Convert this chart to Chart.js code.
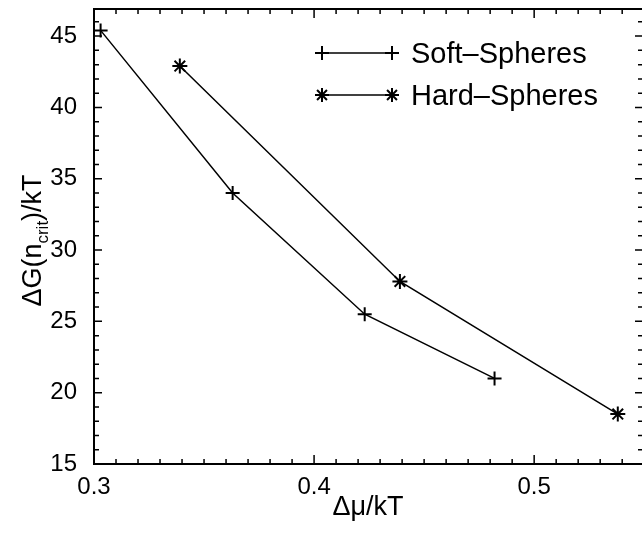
<!DOCTYPE html>
<html>
<head>
<meta charset="utf-8">
<script src="https://cdn.jsdelivr.net/npm/chart.js@4"></script>
<style>
  html, body { margin: 0; padding: 0; overflow: hidden; background: #fff; }
  #myChart { display: block; }
</style>
</head>
<body>
<canvas id="myChart" width="642" height="533"></canvas>
<script>
// data
const softX = [0.303, 0.363, 0.423, 0.482];
const softY = [45.4, 34.0, 25.5, 21.0];
const hardX = [0.339, 0.439, 0.538];
const hardY = [42.9, 27.8, 18.5];
const xTicks = [0.3, 0.4, 0.5];
const yTicks = [15, 20, 25, 30, 35, 40, 45];
const seriesNames = ['Soft\u2013Spheres', 'Hard\u2013Spheres'];

const FONT = '"Liberation Sans", Arial, Helvetica, sans-serif';
Chart.defaults.font.family = FONT;
Chart.defaults.color = '#000';

function toPoints(xs, ys) {
    return xs.map((x, i) => ({ x: x, y: ys[i] }));
}

function drawMarker(ctx, style, x, y, r) {
    ctx.beginPath();
    ctx.moveTo(x - r, y); ctx.lineTo(x + r, y);
    ctx.moveTo(x, y - r); ctx.lineTo(x, y + r);
    if (style === 'star') {
        const d = r * 0.707;
        ctx.moveTo(x - d, y - d); ctx.lineTo(x + d, y + d);
        ctx.moveTo(x - d, y + d); ctx.lineTo(x + d, y - d);
    }
    ctx.stroke();
}

// keep the plot box where the original has it
function fixBox(size) {
    return s => {
        if (s.isHorizontal()) s.height = size; else s.width = size;
        s.paddingTop = 0; s.paddingBottom = 0;
        s.paddingLeft = 0; s.paddingRight = 0;
    };
}

// frame (right edge is cut off in the original), inward ticks, y title, legend
const framePlugin = {
    id: 'frame',
    afterDraw(chart) {
        const ctx = chart.ctx;
        const a = chart.chartArea;
        const xs = chart.scales.x, ys = chart.scales.y;
        ctx.save();
        ctx.strokeStyle = '#000';
        ctx.lineWidth = 2;
        ctx.beginPath();
        ctx.moveTo(chart.width, a.top);
        ctx.lineTo(a.left, a.top);
        ctx.lineTo(a.left, a.bottom);
        ctx.lineTo(chart.width, a.bottom);
        ctx.stroke();

        ctx.lineWidth = 1.5;
        ctx.beginPath();
        for (let i = 30; i <= 55; i++) {
            const px = xs.getPixelForValue(i / 100);
            const len = i % 10 === 0 ? 9 : 5;
            ctx.moveTo(px, a.bottom); ctx.lineTo(px, a.bottom - len);
            ctx.moveTo(px, a.top); ctx.lineTo(px, a.top + len);
        }
        for (let v = 15; v <= 46; v++) {
            const py = ys.getPixelForValue(v);
            const len = v % 5 === 0 ? 8 : 5;
            ctx.moveTo(a.left, py); ctx.lineTo(a.left + len, py);
            ctx.moveTo(a.right + 1, py); ctx.lineTo(a.right + 1 - len, py);
        }
        ctx.stroke();

        // y title: ΔG(n_crit)/kT
        ctx.fillStyle = '#000';
        ctx.translate(31, (a.top + a.bottom) / 2 + 4);
        ctx.rotate(-Math.PI / 2);
        const big = '27px ' + FONT, small = '17px ' + FONT;
        const parts = [['\u0394G(n', big, 0], ['crit', small, 7], [')/kT', big, 0]];
        let total = 0;
        parts.forEach(p => { ctx.font = p[1]; total += ctx.measureText(p[0]).width; });
        let cx = -total / 2;
        ctx.textBaseline = 'alphabetic';
        parts.forEach(p => {
            ctx.font = p[1];
            ctx.fillText(p[0], cx, 10 + p[2]);
            cx += ctx.measureText(p[0]).width;
        });
        ctx.restore();

        // legend
        ctx.save();
        ctx.strokeStyle = '#000';
        ctx.fillStyle = '#000';
        ctx.font = '29px ' + FONT;
        ctx.textBaseline = 'middle';
        const rows = [[53, 'cross'], [95, 'star']];
        rows.forEach((r, i) => {
            ctx.lineWidth = 1.5;
            ctx.beginPath();
            ctx.moveTo(322, r[0]); ctx.lineTo(392, r[0]);
            ctx.stroke();
            ctx.lineWidth = 2;
            drawMarker(ctx, r[1], 322, r[0], 7);
            drawMarker(ctx, r[1], 392, r[0], 7);
            ctx.fillText(seriesNames[i], 411, r[0] + 2);
        });
        ctx.restore();
    }
};

new Chart(document.getElementById('myChart'), {
    type: 'scatter',
    data: {
        datasets: [
            {
                label: seriesNames[0],
                data: toPoints(softX, softY),
                showLine: true,
                borderColor: '#000',
                borderWidth: 1.5,
                pointStyle: 'cross',
                pointRadius: 7,
                pointBorderWidth: 2,
                pointBorderColor: '#000',
                pointBackgroundColor: '#000'
            },
            {
                label: seriesNames[1],
                data: toPoints(hardX, hardY),
                showLine: true,
                borderColor: '#000',
                borderWidth: 1.5,
                pointStyle: 'star',
                pointRadius: 7.5,
                pointBorderWidth: 2,
                pointBorderColor: '#000',
                pointBackgroundColor: '#000'
            }
        ]
    },
    options: {
        responsive: false,
        animation: false,
        layout: { autoPadding: false, padding: { top: 9, right: 0, left: 0, bottom: 0 } },
        plugins: {
            legend: { display: false },
            tooltip: { enabled: false }
        },
        scales: {
            x: {
                type: 'linear',
                min: 0.3,
                max: 0.549,
                grid: { display: false, drawTicks: false },
                border: { display: false },
                afterBuildTicks: s => { s.ticks = xTicks.map(v => ({ value: v })); },
                afterFit: fixBox(69),
                ticks: {
                    padding: 9,
                    font: { size: 24 },
                    callback: v => v.toString()
                },
                title: {
                    display: true,
                    text: '\u0394\u03bc/kT',
                    font: { size: 27 },
                    padding: { top: 0, bottom: 9 }
                }
            },
            y: {
                min: 15,
                max: 46.9,
                grid: { display: false, drawTicks: false },
                border: { display: false },
                afterBuildTicks: s => { s.ticks = yTicks.map(v => ({ value: v })); },
                afterFit: fixBox(94),
                ticks: {
                    padding: 17,
                    font: { size: 24 }
                }
            }
        }
    },
    plugins: [framePlugin]
});
</script>
</body>
</html>
